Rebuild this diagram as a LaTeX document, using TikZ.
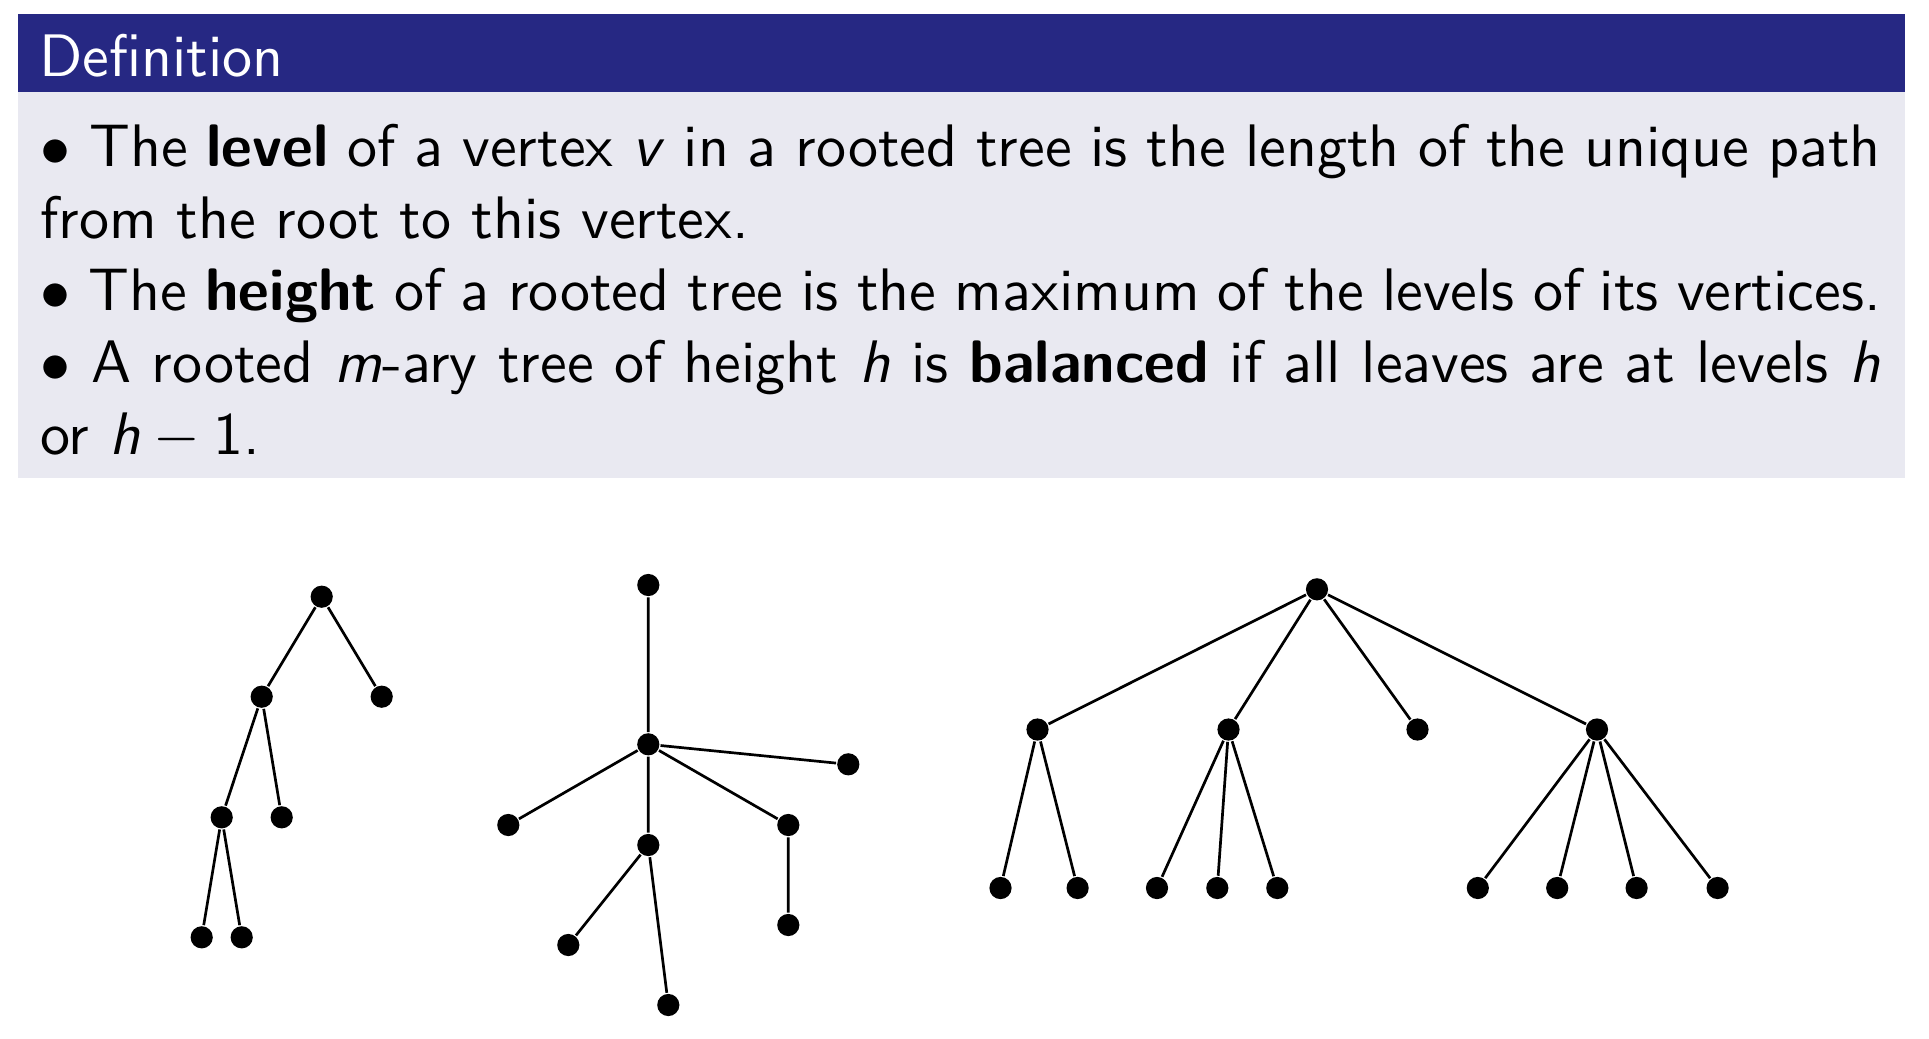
\documentclass[tikz,border=0pt]{standalone}
\definecolor{titleblue}{RGB}{38,40,131}
\definecolor{bodygray}{RGB}{233,233,241}
\begin{document}
\begin{tikzpicture}[x=0.16667pt,y=-0.16667pt,
  dot/.style={circle,fill=black,inner sep=0pt,minimum size=3.7pt},
  edge/.style={line width=0.45pt},
  txt/.style={anchor=base west,inner sep=0pt,font=\fontsize{10}{12}\selectfont\sffamily}]
\useasboundingbox (0,0) rectangle (1929,1038);
% block
\fill[titleblue] (18,14) rectangle (1905,92);
\fill[bodygray] (18,92) rectangle (1905,478);
\node[txt,text=white] (title) at (38,76) {Definition};
\node[txt] (l1) at (39,166) {\makebox[306.8pt][s]{$\bullet$ The \textbf{level} of a vertex \textit{v} in a rooted tree is the length of the unique path}};
\node[txt] (l2) at (39,238) {from the root to this vertex.};
\node[txt] (l3) at (39,310) {\makebox[306.8pt][s]{$\bullet$ The \textbf{height} of a rooted tree is the maximum of the levels of its vertices.}};
\node[txt] (l4) at (39,382) {\makebox[306.8pt][s]{$\bullet$ A rooted \textit{m}-ary tree of height \textit{h} is \textbf{balanced} if all leaves are at levels \textit{h}}};
\node[txt] (l5) at (39,454) {or \textit{h}${}-{}$1.};
% tree 1
\node[dot] (a0) at (321.7,596.7) {};
\node[dot] (a1) at (261.7,696.7) {};
\node[dot] (a2) at (381.7,696.7) {};
\node[dot] (a3) at (221.7,817.3) {};
\node[dot] (a4) at (281.7,817.3) {};
\node[dot] (a5) at (201.7,937.3) {};
\node[dot] (a6) at (241.7,937.3) {};
\draw[edge] (a0)--(a1) (a0)--(a2) (a1)--(a3) (a1)--(a4) (a3)--(a5) (a3)--(a6);
% tree 2
\node[dot] (b0) at (648.3,585) {};
\node[dot] (b1) at (648.3,744.3) {};
\node[dot] (b2) at (848.3,764.3) {};
\node[dot] (b3) at (508.3,825) {};
\node[dot] (b4) at (788.3,825) {};
\node[dot] (b5) at (648.3,845) {};
\node[dot] (b6) at (788.3,925) {};
\node[dot] (b7) at (568.3,945) {};
\node[dot] (b8) at (668.3,1005) {};
\draw[edge] (b0)--(b1) (b1)--(b2) (b1)--(b3) (b1)--(b4) (b1)--(b5) (b4)--(b6) (b5)--(b7) (b5)--(b8);
% tree 3
\node[dot] (c0) at (1317,589.3) {};
\node[dot] (c1) at (1037.5,729.5) {};
\node[dot] (c2) at (1228.5,729.5) {};
\node[dot] (c3) at (1417.5,729.5) {};
\node[dot] (c4) at (1597,729.5) {};
\node[dot] (d1) at (1000.5,888) {};
\node[dot] (d2) at (1077.6,888) {};
\node[dot] (d3) at (1157,888) {};
\node[dot] (d4) at (1217.3,888) {};
\node[dot] (d5) at (1277.3,888) {};
\node[dot] (d6) at (1477.8,888) {};
\node[dot] (d7) at (1557.2,888) {};
\node[dot] (d8) at (1636.6,888) {};
\node[dot] (d9) at (1717.6,888) {};
\draw[edge] (c0)--(c1) (c0)--(c2) (c0)--(c3) (c0)--(c4)
  (c1)--(d1) (c1)--(d2) (c2)--(d3) (c2)--(d4) (c2)--(d5)
  (c4)--(d6) (c4)--(d7) (c4)--(d8) (c4)--(d9);
\end{tikzpicture}
\end{document}
